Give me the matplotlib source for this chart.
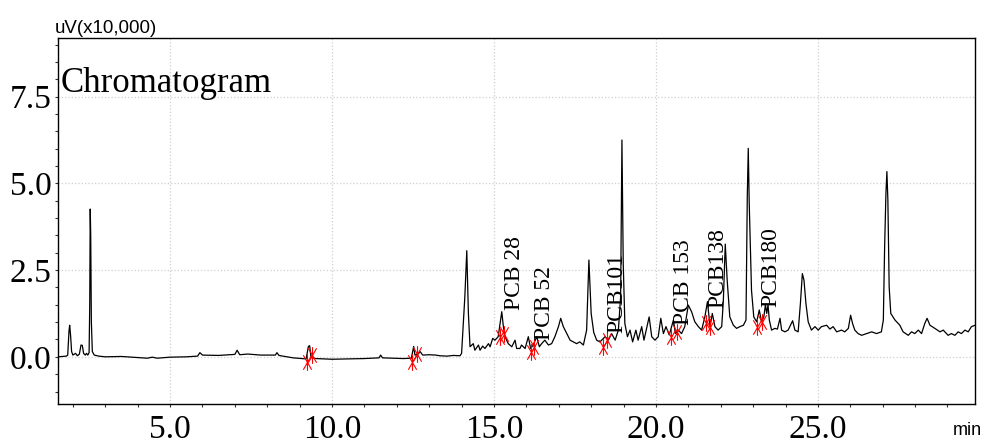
import matplotlib
matplotlib.use("Agg")
import matplotlib.pyplot as plt
from matplotlib.path import Path
from matplotlib.ticker import MultipleLocator, FormatStrFormatter

# retention time (min) and signal (uV x10,000)
rt = [1.54, 1.80, 1.84, 1.88, 1.90, 1.93, 1.96, 2.00, 2.08, 2.14, 2.20, 2.25, 2.29, 2.33,
      2.38, 2.42, 2.46, 2.50, 2.52, 2.535, 2.55, 2.57, 2.60, 2.66, 2.80, 3.00, 3.50, 4.00,
      4.30, 4.45, 4.60, 5.00, 5.50, 5.85, 5.92, 6.00, 6.50, 7.00, 7.07, 7.15, 7.40, 7.80,
      8.25, 8.30, 8.36, 8.80, 9.20, 9.27, 9.31, 9.35, 9.50, 10.00, 10.50, 11.00, 11.45,
      11.50, 11.56, 12.20, 12.45, 12.52, 12.56, 12.66, 12.72, 12.80, 13.00, 13.20, 13.33,
      13.55, 13.75, 13.95, 14.00, 14.10, 14.16, 14.21, 14.26, 14.36, 14.41, 14.52, 14.57,
      14.65, 14.72, 14.83, 14.88, 14.96, 15.03, 15.13, 15.24, 15.29, 15.34, 15.44, 15.55,
      15.65, 15.70, 15.80, 15.85, 15.96, 16.06, 16.13, 16.21, 16.32, 16.40, 16.47, 16.57,
      16.68, 16.78, 16.88, 16.99, 17.06, 17.14, 17.22, 17.35, 17.45, 17.55, 17.65, 17.76,
      17.86, 17.93, 18.00, 18.08, 18.17, 18.27, 18.43, 18.53, 18.63, 18.74, 18.84, 18.91,
      18.95, 18.99, 19.04, 19.12, 19.20, 19.28, 19.38, 19.45, 19.56, 19.63, 19.71, 19.79,
      19.87, 19.97, 20.07, 20.15, 20.23, 20.31, 20.41, 20.54, 20.60, 20.69, 20.79, 20.89,
      21.00, 21.10, 21.20, 21.31, 21.41, 21.51, 21.59, 21.67, 21.74, 21.82, 21.92, 22.03,
      22.08, 22.14, 22.20, 22.28, 22.39, 22.49, 22.59, 22.70, 22.78, 22.82, 22.85, 22.88,
      22.95, 23.02, 23.11, 23.19, 23.26, 23.33, 23.38, 23.42, 23.46, 23.50, 23.57, 23.67,
      23.75, 23.83, 23.88, 23.98, 24.08, 24.22, 24.29, 24.39, 24.46, 24.52, 24.57, 24.63,
      24.70, 24.80, 24.91, 25.01, 25.11, 25.27, 25.37, 25.47, 25.58, 25.73, 25.83, 25.94,
      26.01, 26.07, 26.14, 26.24, 26.35, 26.50, 26.66, 26.81, 26.96, 27.02, 27.06, 27.10,
      27.13, 27.16, 27.20, 27.25, 27.38, 27.53, 27.63, 27.79, 27.89, 27.99, 28.10, 28.20,
      28.30, 28.37, 28.46, 28.61, 28.77, 28.87, 29.02, 29.12, 29.23, 29.33, 29.43, 29.54,
      29.64, 29.74, 29.85]
signal = [0.00, 0.02, 0.05, 0.75, 0.91, 0.60, 0.15, 0.05, 0.10, 0.03, 0.08, 0.34, 0.33, 0.10,
          0.05, 0.10, 0.05, 0.12, 1.50, 4.26, 3.50, 1.00, 0.15, 0.05, 0.02, 0.00, 0.01, -0.02,
          -0.04, -0.01, -0.04, -0.01, 0.00, 0.02, 0.12, 0.05, 0.04, 0.07, 0.19, 0.06, 0.08, 0.05,
          0.05, 0.12, 0.04, -0.03, -0.06, 0.30, 0.32, -0.02, -0.05, -0.07, -0.06, -0.05, -0.03,
          0.05, -0.03, -0.05, -0.04, 0.30, 0.05, 0.08, 0.15, 0.05, 0.06, 0.05, 0.03,
          0.02, 0.04, 0.03, 0.10, 1.73, 3.06, 1.25, 0.29, 0.38, 0.19, 0.34, 0.19,
          0.31, 0.24, 0.38, 0.29, 0.53, 0.48, 0.58, 1.30, 0.87, 0.58, 0.38, 0.29,
          0.48, 0.24, 0.24, 0.34, 0.24, 0.58, 0.24, 0.34, 0.58, 0.29, 0.38, 0.48,
          0.34, 0.38, 0.58, 0.87, 1.11, 0.87, 0.72, 0.48, 0.43, 0.38, 0.43, 0.34,
          0.77, 2.79, 1.25, 0.70, 0.48, 0.43, 0.58, 0.48, 0.67, 0.48, 0.77, 1.73,
          6.25, 2.69, 0.96, 0.58, 0.77, 0.43, 0.77, 0.48, 0.87, 0.48, 0.82, 1.15,
          0.58, 0.48, 0.58, 1.11, 0.67, 0.87, 0.63, 1.06, 0.67, 0.77, 0.67, 0.87,
          1.49, 1.30, 1.01, 0.87, 0.77, 1.15, 1.59, 0.87, 1.25, 0.87, 0.77, 0.87,
          1.60, 3.25, 2.20, 1.15, 0.91, 0.82, 0.87, 0.91, 1.06, 4.62, 6.01, 4.42,
          1.92, 1.15, 1.01, 1.35, 1.01, 1.15, 1.50, 1.25, 1.50, 1.06, 0.77, 0.82,
          0.80, 1.11, 0.77, 0.72, 0.77, 1.04, 0.77, 0.72, 1.54, 2.40, 2.21, 1.54,
          1.01, 0.77, 0.87, 0.77, 0.87, 0.91, 0.80, 0.87, 0.72, 0.77, 0.72, 0.82,
          1.20, 0.96, 0.77, 0.67, 0.62, 0.67, 0.72, 0.67, 0.72, 1.06, 3.17, 4.71,
          5.34, 4.52, 2.02, 1.25, 1.06, 0.91, 0.72, 0.62, 0.72, 0.67, 0.77, 0.67,
          0.96, 1.11, 0.91, 0.82, 0.72, 0.77, 0.62, 0.67, 0.62, 0.72, 0.67, 0.77,
          0.72, 0.87, 0.91]

# peak start / end marks
mark_rt = [9.22, 9.37, 12.48, 12.61, 15.19, 15.32, 16.14, 16.23,
           18.37, 18.48, 20.48, 20.66, 21.56, 21.68, 23.11, 23.26]
mark_sig = [-0.14, 0.05, -0.14, 0.08, 0.58, 0.65, 0.14, 0.29,
            0.29, 0.48, 0.58, 0.72, 0.98, 0.87, 0.87, 1.01]

# compound labels
names = ["PCB 28", "PCB 52", "PCB101", "PCB 153", "PCB138", "PCB180"]
name_rt = [15.62, 16.56, 18.78, 20.85, 21.91, 23.55]
name_sig = [1.34, 0.48, 0.68, 0.91, 1.40, 1.43]

serif = "Liberation Serif"
sans = "Liberation Sans"

# asterisk-like marker: vertical stroke plus two steep diagonals
verts = [(0, -1), (0, 1), (-0.5, -0.87), (0.5, 0.87), (0.5, -0.87), (-0.5, 0.87)]
codes = [Path.MOVETO, Path.LINETO] * 3
star = Path(verts, codes)

fig = plt.figure(figsize=(9.81, 4.47), dpi=100)
ax = fig.add_axes([58 / 981, 43 / 447, 917 / 981, 366 / 447])

ax.plot(rt, signal, color="black", lw=0.9, zorder=3)
ax.plot(mark_rt, mark_sig, ls="none", marker=star, ms=12, mec="red", mew=0.8, zorder=4)

for n, t, s in zip(names, name_rt, name_sig):
    ax.text(t, s, n, rotation=90, ha="center", va="bottom", fontsize=17,
            family=serif, color="black", zorder=5)

ax.set_xlim(1.54, 29.85)
ax.set_ylim(-1.36, 9.19)
ax.xaxis.set_major_locator(MultipleLocator(5))
ax.xaxis.set_minor_locator(MultipleLocator(1))
ax.yaxis.set_major_locator(MultipleLocator(2.5))
ax.yaxis.set_minor_locator(MultipleLocator(0.5))
ax.xaxis.set_major_formatter(FormatStrFormatter("%.1f"))
ax.yaxis.set_major_formatter(FormatStrFormatter("%.1f"))

ax.grid(True, which="major", color="#cfcfcf", ls=":", lw=0.9, zorder=0)
ax.tick_params(which="both", direction="out", length=2.5, width=0.8, color="#333333")
ax.tick_params(axis="x", pad=5)
ax.tick_params(axis="y", pad=2)
for lab in ax.get_xticklabels() + ax.get_yticklabels():
    lab.set_fontfamily(serif)
    lab.set_fontsize(24)
for sp in ax.spines.values():
    sp.set_color("black")
    sp.set_linewidth(1.0)

ax.text(0.003, 0.852, "Chromatogram", transform=ax.transAxes, ha="left",
        va="baseline", fontsize=25, family=serif)
fig.text(55 / 981, (447 - 33) / 447, "uV(x10,000)", ha="left", va="baseline",
         fontsize=13.5, family=sans)
fig.text(953 / 981, (447 - 435) / 447, "min", ha="left", va="baseline",
         fontsize=13, family=sans)

fig.savefig("out.png", dpi=100)
